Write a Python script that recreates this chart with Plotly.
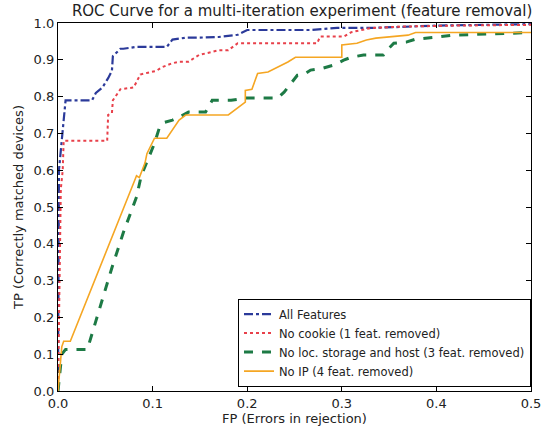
import plotly.graph_objects as go

# ---- data ----
all_x = [0, 0.001, 0.008, 0.036, 0.04, 0.047, 0.053, 0.057, 0.058, 0.066, 0.069, 0.083, 0.097, 0.115, 0.121, 0.135, 0.146, 0.17, 0.19, 0.2, 0.267, 0.295, 0.336, 0.36, 0.4, 0.45, 0.5]
all_y = [0, 0.6, 0.79, 0.79, 0.81, 0.825, 0.85, 0.87, 0.91, 0.93, 0.93, 0.935, 0.935, 0.935, 0.955, 0.96, 0.96, 0.962, 0.968, 0.981, 0.981, 0.987, 0.987, 0.99, 0.993, 0.995, 0.997]

cookie_x = [0, 0.003, 0.005, 0.006, 0.052, 0.053, 0.057, 0.058, 0.066, 0.08, 0.083, 0.087, 0.095, 0.104, 0.11, 0.12, 0.128, 0.138, 0.149, 0.17, 0.18, 0.19, 0.274, 0.277, 0.302, 0.31, 0.33, 0.36, 0.42, 0.5]
cookie_y = [0, 0.55, 0.6, 0.68, 0.68, 0.75, 0.755, 0.79, 0.82, 0.825, 0.84, 0.86, 0.865, 0.87, 0.88, 0.89, 0.895, 0.895, 0.913, 0.926, 0.926, 0.945, 0.945, 0.963, 0.963, 0.975, 0.986, 0.99, 0.993, 0.995]

loc_x = [0, 0.004, 0.008, 0.031, 0.04, 0.057, 0.069, 0.083, 0.088, 0.097, 0.102, 0.107, 0.1125, 0.121, 0.128, 0.138, 0.156, 0.163, 0.183, 0.198, 0.232, 0.239, 0.246, 0.253, 0.26, 0.267, 0.28, 0.292, 0.302, 0.31, 0.323, 0.344, 0.35, 0.355, 0.368, 0.378, 0.402, 0.417, 0.5]
loc_y = [0, 0.1, 0.113, 0.113, 0.19, 0.335, 0.43, 0.527, 0.585, 0.645, 0.673, 0.714, 0.73, 0.736, 0.744, 0.758, 0.758, 0.79, 0.79, 0.796, 0.796, 0.812, 0.836, 0.858, 0.86, 0.872, 0.877, 0.886, 0.899, 0.907, 0.913, 0.913, 0.932, 0.945, 0.948, 0.956, 0.962, 0.967, 0.974]

ip_x = [0, 0.004, 0.006, 0.013, 0.081, 0.083, 0.086, 0.092, 0.094, 0.102, 0.115, 0.128, 0.135, 0.18, 0.198, 0.198, 0.205, 0.211, 0.222, 0.232, 0.243, 0.251, 0.3, 0.3, 0.316, 0.326, 0.336, 0.37, 0.378, 0.5]
ip_y = [0, 0.12, 0.135, 0.135, 0.572, 0.585, 0.58, 0.62, 0.645, 0.687, 0.687, 0.736, 0.75, 0.75, 0.785, 0.817, 0.82, 0.863, 0.867, 0.88, 0.894, 0.907, 0.907, 0.94, 0.945, 0.954, 0.959, 0.967, 0.974, 0.974]

names = ["All Features", "No cookie (1 feat. removed)",
         "No loc. storage and host (3 feat. removed)", "No IP (4 feat. removed)"]
x_ticks = [0.0, 0.1, 0.2, 0.3, 0.4, 0.5]
y_ticks = [0.0, 0.1, 0.2, 0.3, 0.4, 0.5, 0.6, 0.7, 0.8, 0.9, 1.0]

FONT = "DejaVu Sans"

fig = go.Figure()
fig.add_trace(go.Scatter(x=all_x, y=all_y, mode="lines", name=names[0],
                         line=dict(color="#2b3a9a", width=2.2, dash="dashdot")))
fig.add_trace(go.Scatter(x=cookie_x, y=cookie_y, mode="lines", name=names[1],
                         line=dict(color="#e8404a", width=2, dash="dot")))
fig.add_trace(go.Scatter(x=loc_x, y=loc_y, mode="lines", name=names[2],
                         line=dict(color="#1d7a45", width=3, dash="dash")))
fig.add_trace(go.Scatter(x=ip_x, y=ip_y, mode="lines", name=names[3],
                         line=dict(color="#f5a623", width=1.6)))

axis_common = dict(
    showgrid=False, zeroline=False, showline=True, linecolor="black", linewidth=1.2,
    mirror="allticks", ticks="inside", ticklen=5, tickcolor="black",
    tickfont=dict(family=FONT, size=13, color="#222"),
)

fig.update_layout(
    width=553, height=435,
    margin=dict(l=58, r=16, t=23, b=43),
    paper_bgcolor="white", plot_bgcolor="white",
    font=dict(family=FONT, color="#222"),
    title=dict(text="ROC Curve for a multi-iteration experiment (feature removal)",
               x=0.516, xanchor="center", xref="paper",
               y=0.975, yanchor="middle", yref="container",
               font=dict(family=FONT, size=15, color="#222")),
    xaxis=dict(range=[0, 0.5], tickvals=x_ticks, ticktext=[f"{v:.1f}" for v in x_ticks],
               title=dict(text="FP (Errors in rejection)", font=dict(family=FONT, size=13), standoff=3),
               **axis_common),
    yaxis=dict(range=[0, 1.0], tickvals=y_ticks, ticktext=[f"{v:.1f}" for v in y_ticks],
               title=dict(text="TP (Correctly matched devices)", font=dict(family=FONT, size=13), standoff=7),
               **axis_common),
    legend=dict(x=1, xanchor="right", y=0.012, yanchor="bottom",
                bgcolor="white", bordercolor="black", borderwidth=1,
                font=dict(family=FONT, size=11.5, color="#222"),
                tracegroupgap=0, itemwidth=30),
    showlegend=True,
)

page_css = (
    "document.documentElement.style.margin='0';"
    "document.documentElement.style.height='435px';"
    "document.documentElement.style.overflow='hidden';"
    "document.body.style.margin='0';"
    "document.body.style.height='435px';"
    "document.body.style.overflow='hidden';"
)

fig.write_html("out.html", config={"displayModeBar": False}, post_script=page_css)
